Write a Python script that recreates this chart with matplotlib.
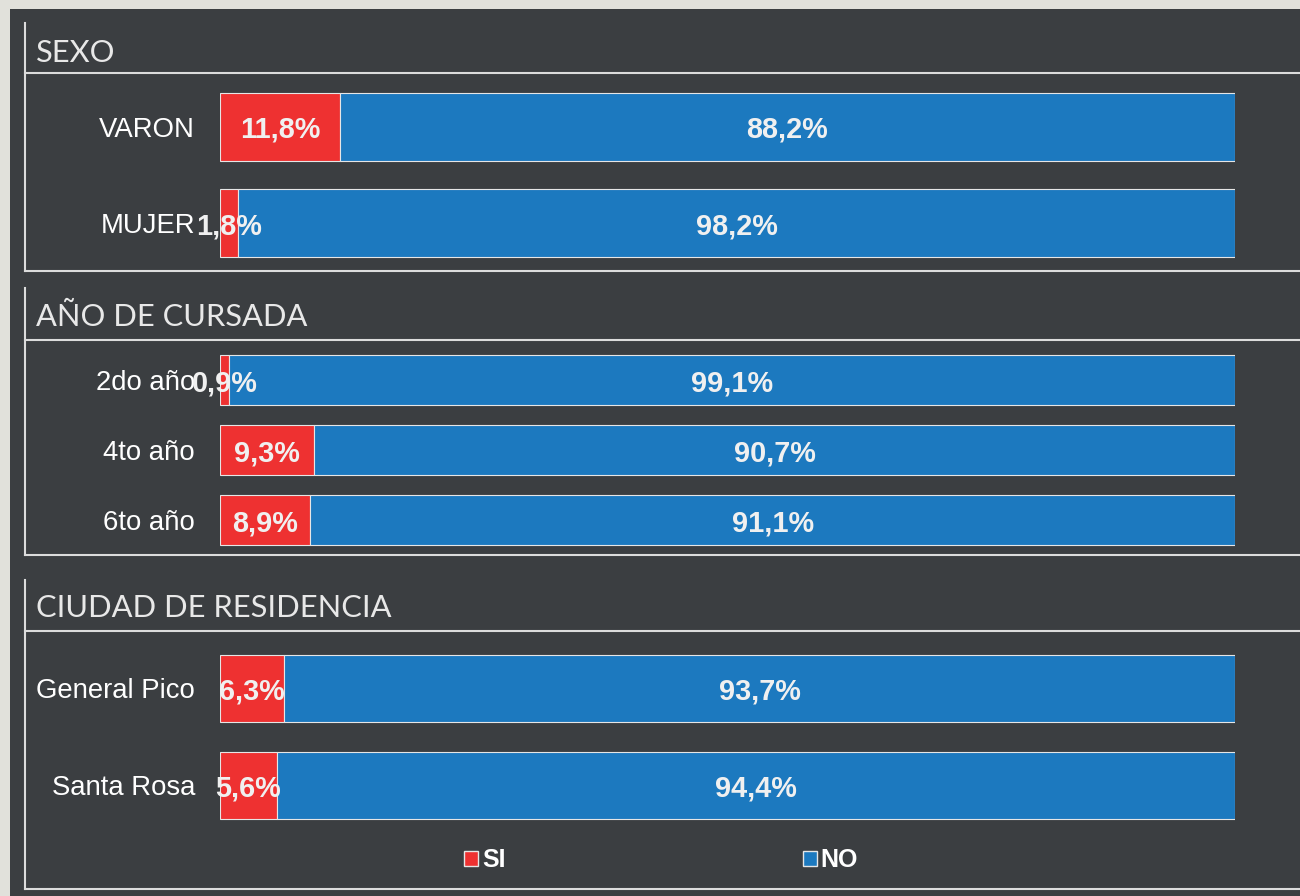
import matplotlib
matplotlib.use("Agg")
import matplotlib.pyplot as plt
from matplotlib.patches import Rectangle
from matplotlib.lines import Line2D
from matplotlib.patches import Patch

# ---------------- data ----------------
sections = ["SEXO", "AÑO DE CURSADA", "CIUDAD DE RESIDENCIA"]
sexo_cats = ["VARON", "MUJER"]
sexo_si = [11.8, 1.8]
sexo_no = [88.2, 98.2]
anio_cats = ["2do año", "4to año", "6to año"]
anio_si = [0.9, 9.3, 8.9]
anio_no = [99.1, 90.7, 91.1]
ciudad_cats = ["General Pico", "Santa Rosa"]
ciudad_si = [6.3, 5.6]
ciudad_no = [93.7, 94.4]
legend_labels = ["SI", "NO"]

# ---------------- style ----------------
W, H = 1300, 896
DPI = 100
BG_LIGHT = "#e1e1db"
BG_DARK = "#3b3e41"
LINE_C = "#dcdcdc"
RED = "#ee3131"
BLUE = "#1c79bf"
TXT = "#f0f0f0"

fig = plt.figure(figsize=(W / DPI, H / DPI), dpi=DPI, facecolor=BG_LIGHT)


def fx(px):
    return px / W


def fy(py):
    return 1 - py / H


# dark panel
fig.add_artist(Rectangle((fx(10), 0), 1 - fx(10), fy(9), transform=fig.transFigure,
                         facecolor=BG_DARK, edgecolor="none", zorder=0))

# section frames: (top of vertical line, header text y, header line y, bottom line y)
frames = [(23, 50, 73, 271), (288, 314, 340, 555), (580, 605, 631, 889)]
for (top, ty, hl, bl), name in zip(frames, sections):
    fig.add_artist(Line2D([fx(25), fx(25)], [fy(top), fy(bl)], transform=fig.transFigure,
                          color=LINE_C, lw=1.5, zorder=1))
    fig.add_artist(Line2D([fx(25), 1], [fy(hl), fy(hl)], transform=fig.transFigure,
                          color=LINE_C, lw=1.5, zorder=1))
    fig.add_artist(Line2D([fx(25), 1], [fy(bl), fy(bl)], transform=fig.transFigure,
                          color=LINE_C, lw=1.5, zorder=1))
    fig.text(fx(36), fy(ty), name, color="#e8e8e8", fontsize=22.2, family="Lato",
             ha="left", va="center_baseline")

# bar axes: (categories, si, no, y of first center, y spacing, bar height px)
groups = [
    (sexo_cats, sexo_si, sexo_no, 127, 96, 68),
    (anio_cats, anio_si, anio_no, 380, 70, 50),
    (ciudad_cats, ciudad_si, ciudad_no, 688, 97, 67),
]
x0, x1 = 220, 1235
for cats, si, no, c0, sp, bh in groups:
    n = len(cats)
    top = c0 - sp / 2
    bottom = c0 + sp * (n - 0.5)
    ax = fig.add_axes([fx(x0), fy(bottom), fx(x1) - fx(x0), (bottom - top) / H])
    ax.set_facecolor("none")
    pos = list(range(n))
    h = bh / sp
    ax.barh(pos, si, height=h, color=RED, edgecolor="#e6e6e6", linewidth=0.8, label=legend_labels[0])
    ax.barh(pos, no, left=si, height=h, color=BLUE, edgecolor="#e6e6e6", linewidth=0.8, label=legend_labels[1])
    for i in pos:
        ax.text(si[i] / 2, i, f"{si[i]:.1f}%".replace(".", ","), ha="center", va="center_baseline",
                color=TXT, fontsize=20.8, fontweight="bold", family="Liberation Sans", zorder=5)
        ax.text(si[i] + no[i] / 2, i, f"{no[i]:.1f}%".replace(".", ","), ha="center", va="center_baseline",
                color=TXT, fontsize=20.8, fontweight="bold", family="Liberation Sans", zorder=5)
    ax.set_xlim(0, 100)
    ax.set_ylim(n - 0.5, -0.5)
    ax.set_yticks(pos)
    ax.set_yticklabels(cats, fontsize=19.8, color="white", family="Liberation Sans")
    for lbl in ax.get_yticklabels():
        lbl.set_verticalalignment("center_baseline")
    ax.tick_params(axis="y", length=0, pad=18)
    ax.set_xticks([])
    for s in ax.spines.values():
        s.set_visible(False)

handles = [Patch(facecolor=RED, edgecolor="#e6e6e6", linewidth=1.0),
           Patch(facecolor=BLUE, edgecolor="#e6e6e6", linewidth=1.0)]
leg = fig.legend(handles, legend_labels, loc="center", bbox_to_anchor=(fx(661), fy(860)),
                 ncol=2, frameon=False, handlelength=0.55, handleheight=0.55, handletextpad=0.15,
                 columnspacing=11.9,
                 prop={"family": "Liberation Sans", "weight": "bold", "size": 18})
for t in leg.get_texts():
    t.set_color("white")

fig.savefig("out.png", dpi=DPI, facecolor=BG_LIGHT)
